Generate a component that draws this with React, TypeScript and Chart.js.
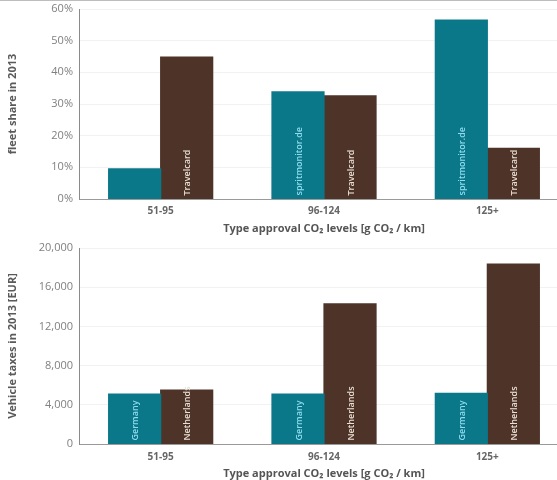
import React, { useEffect, useRef } from "react";
import { Chart, registerables } from "chart.js";

Chart.register(...registerables);

const categories = ["51-95", "96-124", "125+"];

const shareLabels = ["spritmonitor.de", "Travelcard"];
const shareSpritmonitor = [9.5, 33.8, 56.5];
const shareTravelcard = [44.8, 32.6, 16.0];
const shareTicks = [0, 10, 20, 30, 40, 50, 60];

const taxLabels = ["Germany", "Netherlands"];
const taxGermany = [5100, 5100, 5170];
const taxNetherlands = [5500, 14300, 18350];
const taxTicks = [0, 4000, 8000, 12000, 16000, 20000];

const xTitle = "Type approval CO\u2082 levels [g CO\u2082 / km]";

const TEAL = "#0b7889";
const BROWN = "#4e3329";
const TEAL_TEXT = "#8fdcf0";
const BROWN_TEXT = "#eadfd4";
const FONT = "'Open Sans', sans-serif";

const barLabelPlugin = {
  id: "barLabels",
  afterDatasetsDraw(chart: any) {
    const ctx = chart.ctx;
    chart.data.datasets.forEach((ds: any, di: number) => {
      const meta = chart.getDatasetMeta(di);
      meta.data.forEach((bar: any) => {
        const h = bar.base - bar.y;
        if (h < 40) return;
        ctx.save();
        ctx.translate(bar.x + 1, bar.base - 3);
        ctx.rotate(-Math.PI / 2);
        ctx.font = `600 9px ${FONT}`;
        ctx.fillStyle = ds.labelColor;
        ctx.textAlign = "left";
        ctx.textBaseline = "middle";
        ctx.fillText(ds.label, 0, 0);
        ctx.restore();
      });
    });
  },
};

function makeConfig(
  labels: string[],
  a: number[],
  b: number[],
  ticks: number[],
  yTitle: string,
  fmt: (v: number) => string,
  padTop: number,
  xHeight: number,
  xTickPad: number,
  xTitlePadBottom: number
): any {
  return {
    type: "bar",
    data: {
      labels: categories,
      datasets: [
        { label: labels[0], data: a, backgroundColor: TEAL, labelColor: TEAL_TEXT, borderWidth: 0, inflateAmount: 0.6 },
        { label: labels[1], data: b, backgroundColor: BROWN, labelColor: BROWN_TEXT, borderWidth: 0, inflateAmount: 0.6 },
      ],
    },
    plugins: [barLabelPlugin],
    options: {
      animation: false,
      responsive: true,
      maintainAspectRatio: false,
      layout: { padding: { top: padTop, left: 0, right: 0, bottom: 0 } },
      plugins: { legend: { display: false }, tooltip: { enabled: false } },
      datasets: { bar: { categoryPercentage: 0.637, barPercentage: 1 } },
      scales: {
        x: {
          grid: { display: false, drawTicks: false },
          border: { display: true, color: "#9a9a9a", width: 1 },
          ticks: {
            color: "#666",
            padding: xTickPad,
            font: { family: FONT, size: 10, weight: "bold" },
          },
          title: {
            display: true,
            text: xTitle,
            color: "#555",
            padding: { top: 0, bottom: xTitlePadBottom },
            font: { family: FONT, size: 11, weight: "bold" },
          },
          afterFit(scale: any) {
            scale.height = xHeight;
            scale.paddingLeft = 0;
            scale.paddingRight = 0;
          },
        },
        y: {
          min: ticks[0],
          max: ticks[ticks.length - 1],
          afterBuildTicks(scale: any) {
            scale.ticks = ticks.map((v) => ({ value: v }));
          },
          grid: { display: true, color: "#f2f2f2", drawTicks: false },
          border: { display: true, color: "#8a8a8a", width: 1 },
          ticks: {
            color: "#808080",
            padding: 6,
            font: { family: FONT, size: 11 },
            callback: (v: number) => fmt(v),
          },
          title: {
            display: true,
            text: yTitle,
            color: "#5a5a5a",
            padding: { top: 6, bottom: 0 },
            font: { family: FONT, size: 11, weight: "bold" },
          },
          afterFit(scale: any) {
            scale.width = 79;
            scale.paddingTop = 0;
            scale.paddingBottom = 0;
          },
        },
      },
    },
  };
}

function BarChart({ config }: { config: any }) {
  const ref = useRef<HTMLCanvasElement | null>(null);
  useEffect(() => {
    if (!ref.current) return;
    const chart = new Chart(ref.current, config);
    return () => chart.destroy();
  }, [config]);
  return <canvas ref={ref} />;
}

const topConfig = makeConfig(
  shareLabels,
  shareSpritmonitor,
  shareTravelcard,
  shareTicks,
  "fleet share in 2013",
  (v) => `${v}%`,
  9,
  41,
  6,
  5
);

const bottomConfig = makeConfig(
  taxLabels,
  taxGermany,
  taxNetherlands,
  taxTicks,
  "Vehicle taxes in 2013 [EUR]",
  (v) => v.toLocaleString("en-US"),
  8,
  36,
  7,
  0
);

export default function App() {
  return (
    <div
      style={{
        position: "fixed",
        left: 0,
        top: 0,
        width: 557,
        height: 480,
        overflow: "hidden",
        background: "#fff",
      }}
    >
      <div style={{ position: "absolute", left: 0, top: 0, width: 569, height: 240 }}>
        <BarChart config={topConfig} />
      </div>
      <div style={{ position: "absolute", left: 0, top: 240, width: 569, height: 240 }}>
        <BarChart config={bottomConfig} />
      </div>
      <div
        style={{
          position: "absolute",
          left: 0,
          top: 0,
          width: 557,
          height: 1,
          background: "#bdbdbd",
        }}
      />
    </div>
  );
}
